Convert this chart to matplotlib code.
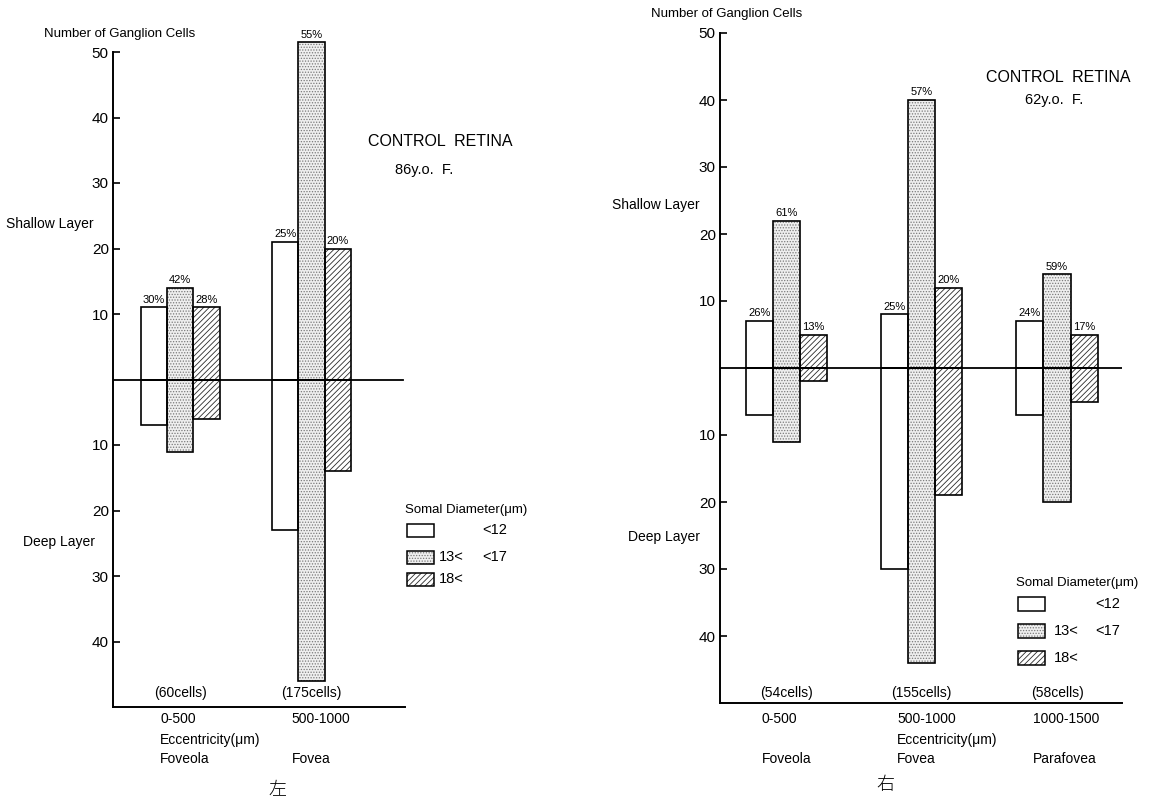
import matplotlib
matplotlib.use('Agg')
import matplotlib.pyplot as plt
from matplotlib.patches import Rectangle

plt.rcParams['font.family'] = ['Liberation Sans', 'Noto Sans CJK JP', 'DejaVu Sans']
plt.rcParams['hatch.linewidth'] = 0.6

# ---- data: left panel (86 y.o. F.) ----
left_ranges = ['0-500', '500-1000']
left_regions = ['Foveola', 'Fovea']
left_cells = ['(60cells)', '(175cells)']
left_shallow_small = [11, 21]
left_shallow_mid = [14, 51.5]
left_shallow_large = [11, 20]
left_deep_small = [7, 23]
left_deep_mid = [11, 46]
left_deep_large = [6, 14]
left_pct_small = ['30%', '25%']
left_pct_mid = ['42%', '55%']
left_pct_large = ['28%', '20%']

# ---- data: right panel (62 y.o. F.) ----
right_ranges = ['0-500', '500-1000', '1000-1500']
right_regions = ['Foveola', 'Fovea', 'Parafovea']
right_cells = ['(54cells)', '(155cells)', '(58cells)']
right_shallow_small = [7, 8, 7]
right_shallow_mid = [22, 40, 14]
right_shallow_large = [5, 12, 5]
right_deep_small = [7, 30, 7]
right_deep_mid = [11, 44, 20]
right_deep_large = [2, 19, 5]
right_pct_small = ['26%', '25%', '24%']
right_pct_mid = ['61%', '57%', '59%']
right_pct_large = ['13%', '20%', '17%']

ytick_vals = [50, 40, 30, 20, 10, -10, -20, -30, -40]
ytick_labels = ['50', '40', '30', '20', '10', '10', '20', '30', '40']
legend_title = 'Somal Diameter(\u03bcm)'
legend_left = ['', '13<', '18<']
legend_right = ['<12', '<17', '']

W, H = 1159, 798
fig = plt.figure(figsize=(W / 100, H / 100), dpi=100)


def fx(px):
    return px / W


def fy(py):
    return 1 - py / H


BW = 0.2
styles = [
    dict(face='white', hatch=None, hc='black'),
    dict(face='#efefef', hatch='......', hc='#7a7a7a'),
    dict(face='white', hatch='//////', hc='#2a2a2a'),
]


def draw_bars(ax, x, heights, style):
    # texture first, outline on top
    ax.bar(x, heights, width=BW, color=style['face'], edgecolor=style['hc'],
           hatch=style['hatch'], linewidth=0, clip_on=False, zorder=2)
    ax.bar(x, heights, width=BW, fill=False, edgecolor='black',
           linewidth=1.2, clip_on=False, zorder=3)


def draw_panel(ax, xlim, ranges, regions, cells, shallow, deep, pcts,
               zero_end, ymap, lab_off):
    n = len(ranges)
    xs = list(range(n))
    for k in range(3):
        pos = [i + (k - 1) * BW for i in xs]
        draw_bars(ax, pos, shallow[k], styles[k])
        draw_bars(ax, pos, [-d for d in deep[k]], styles[k])
        for p, h, t in zip(pos, shallow[k], pcts[k]):
            ax.text(p, h + 0.4, t, ha='center', va='bottom', fontsize=8,
                    family=['Liberation Sans Narrow', 'Liberation Sans'])
    ax.set_xlim(*xlim)
    ax.set_ylim(-50, 50)
    ax.axhline(0, xmax=zero_end, color='black', linewidth=1.3, zorder=4)
    for s in ['top', 'right']:
        ax.spines[s].set_visible(False)
    ax.spines['left'].set_linewidth(1.4)
    ax.spines['bottom'].set_linewidth(1.4)
    ax.set_xticks([])
    ax.set_yticks(ytick_vals)
    ax.set_yticklabels(ytick_labels, fontsize=11)
    ax.tick_params(axis='y', direction='in', length=5, width=1.2, pad=3)
    ax.patch.set_alpha(0)
    for i in xs:
        ax.text(i, ymap(693), cells[i], ha='center', va='center', fontsize=10)
        ax.text(i - lab_off, ymap(719), ranges[i], ha='left', va='center',
                fontsize=10, clip_on=False)
        ax.text(i - lab_off, ymap(759), regions[i], ha='left', va='center',
                fontsize=10, clip_on=False)
    ax.text(1 - lab_off if n == 3 else -lab_off, ymap(740),
            'Eccentricity(\u03bcm)', ha='left', va='center', fontsize=10)


def draw_legend(x_box, x_a, x_b, y_title, rows_y, box_h):
    fig.text(fx(x_box - 2), fy(y_title), legend_title, fontsize=9.5,
             ha='left', va='center')
    for k, yy in enumerate(rows_y):
        st = styles[k]
        r = Rectangle((fx(x_box), fy(yy + box_h / 2)), fx(27), box_h / H,
                      transform=fig.transFigure, facecolor=st['face'],
                      edgecolor=st['hc'], hatch=st['hatch'], linewidth=0)
        fig.patches.append(r)
        fig.patches.append(Rectangle((fx(x_box), fy(yy + box_h / 2)), fx(27),
                                     box_h / H, transform=fig.transFigure,
                                     fill=False, edgecolor='black', linewidth=1.1))
        fig.text(fx(x_a), fy(yy), legend_left[k], fontsize=10.5, ha='left', va='center')
        fig.text(fx(x_b), fy(yy), legend_right[k], fontsize=10.5, ha='left', va='center')


# left panel: 50 -> y=52px, -50 -> y=707px
axL = fig.add_axes([fx(113), fy(707), fx(405 - 113), (707 - 52) / H])
draw_panel(axL, (-0.51, 1.71), left_ranges, left_regions, left_cells,
           [left_shallow_small, left_shallow_mid, left_shallow_large],
           [left_deep_small, left_deep_mid, left_deep_large],
           [left_pct_small, left_pct_mid, left_pct_large],
           0.993, lambda py: (379.5 - py) / 6.55, 0.15)

# right panel: 50 -> y=33px, -50 -> y=703px
axR = fig.add_axes([fx(720), fy(703), fx(1122 - 720), (703 - 33) / H])
draw_panel(axR, (-0.49, 2.48), right_ranges, right_regions, right_cells,
           [right_shallow_small, right_shallow_mid, right_shallow_large],
           [right_deep_small, right_deep_mid, right_deep_large],
           [right_pct_small, right_pct_mid, right_pct_large],
           1.0, lambda py: (368 - py) / 6.7, 0.18)

# side labels
fig.text(fx(120), fy(34), 'Number of Ganglion Cells', fontsize=9.5, ha='center', va='center')
fig.text(fx(727), fy(14), 'Number of Ganglion Cells', fontsize=9.5, ha='center', va='center')
fig.text(fx(6), fy(224), 'Shallow Layer', fontsize=10, ha='left', va='center')
fig.text(fx(612), fy(205), 'Shallow Layer', fontsize=10, ha='left', va='center')
fig.text(fx(23), fy(542), 'Deep Layer', fontsize=10, ha='left', va='center')
fig.text(fx(628), fy(537), 'Deep Layer', fontsize=10, ha='left', va='center')

fig.text(fx(440), fy(142), 'CONTROL  RETINA', fontsize=11.5, ha='center', va='center')
fig.text(fx(424), fy(170), '86y.o.  F.', fontsize=10.5, ha='center', va='center')
fig.text(fx(1058), fy(77), 'CONTROL  RETINA', fontsize=11.5, ha='center', va='center')
fig.text(fx(1054), fy(100), '62y.o.  F.', fontsize=10.5, ha='center', va='center')

draw_legend(407, 439, 482, 510, [530, 557, 579], 13)
draw_legend(1018, 1054, 1095, 583, [604, 631, 658], 14)

fig.text(fx(277), fy(790), '左', fontsize=13, ha='center', va='center',
         family=['Noto Sans CJK JP'], fontweight='light')
fig.text(fx(885), fy(785), '右', fontsize=13, ha='center', va='center',
         family=['Noto Sans CJK JP'], fontweight='light')

fig.savefig('out.png', dpi=100)
